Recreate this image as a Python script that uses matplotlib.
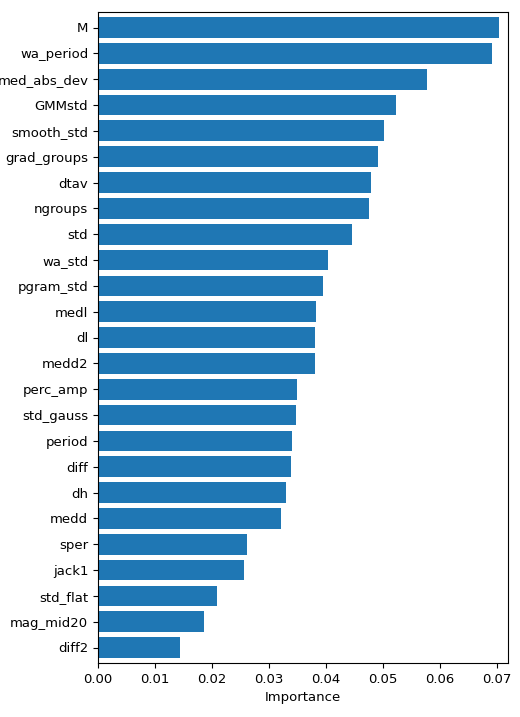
import matplotlib.pyplot as plt
import numpy as np

features = ["M", "wa_period", "med_abs_dev", "GMMstd", "smooth_std", "grad_groups",
            "dtav", "ngroups", "std", "wa_std", "pgram_std", "medl", "dl", "medd2",
            "perc_amp", "std_gauss", "period", "diff", "dh", "medd", "sper", "jack1",
            "std_flat", "mag_mid20", "diff2"]
importance = [0.0703, 0.0691, 0.0577, 0.0523, 0.0502, 0.0491, 0.0479, 0.0475, 0.0446,
              0.0404, 0.0395, 0.0382, 0.0381, 0.0381, 0.0349, 0.0347, 0.0340, 0.0339,
              0.0330, 0.0321, 0.0261, 0.0256, 0.0209, 0.0186, 0.0144]

plt.rcParams['font.size'] = 9.5

fig = plt.figure(figsize=(5.2, 7.17), dpi=100)
ax = fig.add_axes([98 / 520, 1 - 663 / 717, 410 / 520, 651 / 717])

y = np.arange(len(features))[::-1]
ax.barh(y, importance, color='#1f77b4', height=0.8)
ax.set_yticks(y)
ax.set_yticklabels(features)
ax.set_ylim(-0.6, len(features) - 0.4)
ax.set_xlim(0, 0.0719)
ax.set_xticks(np.arange(0, 0.071, 0.01))
ax.set_xlabel('Importance')

plt.savefig('out.png', dpi=100)
